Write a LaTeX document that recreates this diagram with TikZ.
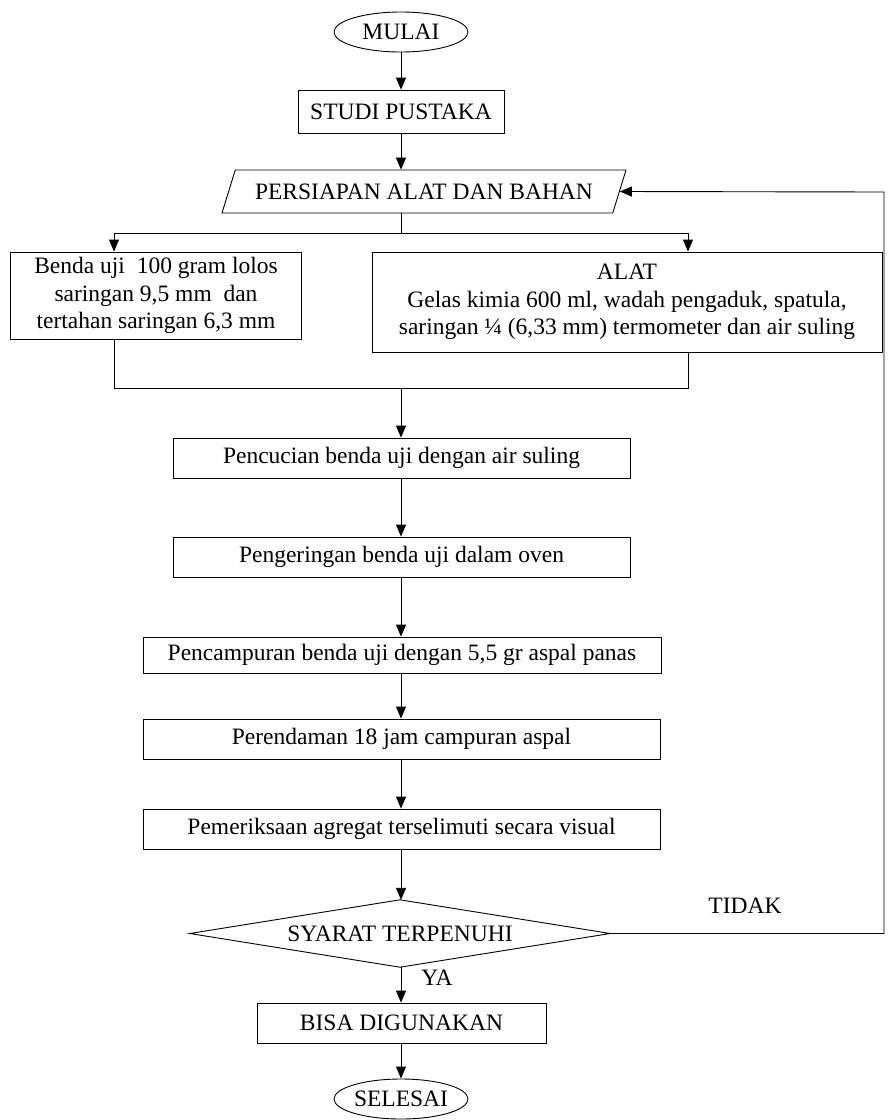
\documentclass[tikz,border=0pt]{standalone}
\usepackage{fontspec}
\setmainfont{Liberation Serif}
\usetikzlibrary{shapes.geometric,arrows.meta}
\begin{document}
\begin{tikzpicture}[x=1pt,y=-1pt,
  every node/.style={font=\fontsize{23.5}{27.5}\selectfont, inner sep=0pt},
  box/.style={draw, rectangle, line width=0.9pt},
  term/.style={draw, ellipse, line width=0.9pt, minimum width=134pt, minimum height=40pt},
  arr/.style={line width=0.9pt, -{Triangle[width=10pt,length=12pt]}},
  ln/.style={line width=0.9pt}]
\useasboundingbox (0,0) rectangle (891,1120);
\node[term] (mulai) at (401,32) {MULAI};
\node[box, minimum width=206pt, minimum height=43pt] (studi) at (401,111.5) {STUDI PUSTAKA};
\node[draw, line width=0.9pt, trapezium, trapezium left angle=50, trapezium right angle=130,
      trapezium stretches body, minimum width=404pt, minimum height=43pt] (pers) at (424,191.5) {PERSIAPAN ALAT DAN BAHAN};
\node[box, minimum width=291pt, minimum height=87pt, align=center] (benda) at (156,295.5)
  {Benda uji~ 100 gram lolos\\saringan 9,5 mm~ dan\\tertahan saringan 6,3 mm};
\node[box, minimum width=510pt, minimum height=100pt, align=center] (alat) at (627,302)
  {ALAT\\Gelas kimia 600 ml, wadah pengaduk, spatula,\\saringan ¼ (6,33 mm) termometer dan air suling};
\node[box, minimum width=457pt, minimum height=40pt] (cuci) at (401.5,458) {Pencucian benda uji dengan air suling};
\node[box, minimum width=457pt, minimum height=40pt] (kering) at (401.5,557) {Pengeringan benda uji dalam oven};
\node[box, minimum width=518pt, minimum height=36pt] (campur) at (402,655) {Pencampuran benda uji dengan 5,5 gr aspal panas};
\node[box, minimum width=517pt, minimum height=40pt] (rendam) at (401.5,739) {Perendaman 18 jam campuran aspal};
\node[box, minimum width=517pt, minimum height=40pt] (periksa) at (401.5,829) {Pemeriksaan agregat terselimuti secara visual};
\node[minimum width=420pt, minimum height=67pt] (syarat) at (400,933.5) {SYARAT TERPENUHI};
\draw[line width=0.9pt] (syarat.north) -- (syarat.east) -- (syarat.south) -- (syarat.west) -- cycle;
\node[box, minimum width=289pt, minimum height=40pt] (bisa) at (401.5,1023) {BISA DIGUNAKAN};
\node[term] (selesai) at (401,1099) {SELESAI};
\node (tidak) at (745,906) {TIDAK};
\node (ya) at (437,978) {YA};
% connectors
\draw[arr] (mulai) -- (studi);
\draw[arr] (studi.south -| mulai) -- (pers.north -| mulai);
\coordinate (split) at (401,233);
\coordinate (sl) at (114,233);
\coordinate (sr) at (688,233);
\draw[ln] (pers.south -| split) -- (split);
\draw[ln] (sl) -- (sr);
\draw[arr] (sl) -- (sl |- benda.north);
\draw[arr] (sr) -- (sr |- alat.north);
\coordinate (jl) at (114,388);
\coordinate (jr) at (688,388);
\coordinate (jc) at (401,388);
\draw[ln] (jl |- benda.south) -- (jl) -- (jr) -- (jr |- alat.south);
\draw[arr] (jc) -- (jc |- cuci.north);
\draw[arr] (cuci.south -| jc) -- (kering.north -| jc);
\draw[arr] (kering.south -| jc) -- (campur.north -| jc);
\draw[arr] (campur.south -| jc) -- (rendam.north -| jc);
\draw[arr] (rendam.south -| jc) -- (periksa.north -| jc);
\draw[arr] (periksa.south -| jc) -- (syarat.north -| jc);
\draw[arr] (syarat.south -| jc) -- (bisa.north -| jc);
\draw[arr] (bisa.south -| jc) -- (selesai.north -| jc);
\coordinate (rb) at (884,933.5);
\coordinate (rt) at (884,192);
\draw[arr] (syarat.east) -- (rb) -- (rt) -- (pers.east);
\end{tikzpicture}
\end{document}
